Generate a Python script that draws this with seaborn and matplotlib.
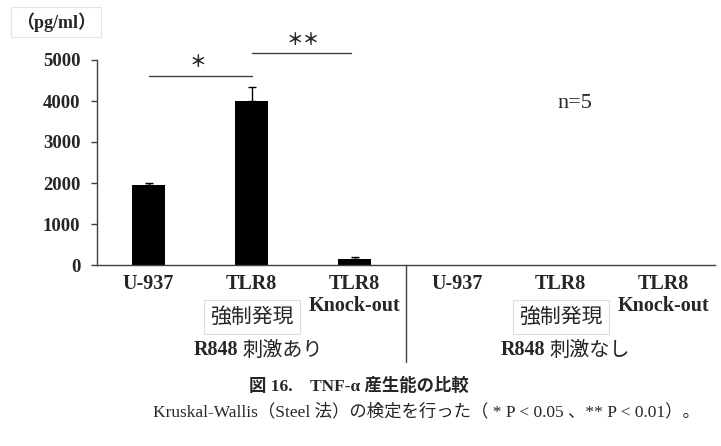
import matplotlib
matplotlib.use('Agg')
import matplotlib.pyplot as plt
import matplotlib.transforms as mtransforms
import seaborn as sns
import pandas as pd

# data
groups = ['U-937 +', 'TLR8 +', 'TLR8 KO +', 'U-937 -', 'TLR8 -', 'TLR8 KO -']
tnf = [1950, 4000, 150, 0, 0, 0]
sd = [60, 340, 50, 0, 0, 0]
top_labels = ['U-937', 'TLR8', 'TLR8', 'U-937', 'TLR8', 'TLR8']
sub_labels = ['', '強制発現', 'Knock-out', '', '強制発現', 'Knock-out']
stim_labels = [('R848', '刺激あり'), ('R848', '刺激なし')]
yticks = [0, 1000, 2000, 3000, 4000, 5000]

df = pd.DataFrame({'group': groups, 'tnf': tnf})

sns.set_style('white')
plt.rcParams['font.family'] = ['Liberation Serif', 'Noto Sans CJK JP']

W, H = 721, 446
fig = plt.figure(figsize=(W / 100, H / 100), dpi=100)
ax = fig.add_axes([97 / W, 1 - 265 / H, (715 - 97) / W, (265 - 60) / H])

sns.barplot(data=df, x='group', y='tnf', order=groups, color='black',
            width=0.32, errorbar=None, linewidth=0, saturation=1, ax=ax)
xs = range(len(groups))
ax.errorbar(xs[:3], tnf[:3], yerr=[[0] * 3, sd[:3]], fmt='none',
            ecolor='black', elinewidth=1, capsize=3, capthick=1)

ax.set_xlim(-0.5, 5.5)
ax.set_ylim(0, 5000)
ax.set_yticks(yticks)
ax.set_yticklabels([str(v) for v in yticks], fontsize=13.5, fontweight='bold')
ax.set_xticks([])
ax.set_xlabel('')
ax.set_ylabel('')
ax.tick_params(axis='y', direction='out', length=4, width=1, color='#404040', pad=8, left=True)
sns.despine(ax=ax)
for s in ['left', 'bottom']:
    ax.spines[s].set_color('#404040')
    ax.spines[s].set_linewidth(1)

# category labels below axis
tr = mtransforms.blended_transform_factory(ax.transData, fig.transFigure)
def fy(py):
    return 1 - py / H

for i, (t, s) in enumerate(zip(top_labels, sub_labels)):
    ax.text(i, fy(284), t, transform=tr, ha='center', va='center',
            fontsize=14.5, fontweight='bold')
    if s == 'Knock-out':
        ax.text(i, fy(306), s, transform=tr, ha='center', va='center',
                fontsize=14.5, fontweight='bold')
    elif s:
        ax.text(i, fy(317), s, transform=tr, ha='center', va='center',
                fontsize=15, family=['Noto Sans CJK JP'],
                bbox=dict(boxstyle='square,pad=0.3', fc='white', ec='#dddddd', lw=0.8))

# R848 group labels: bold latin part + regular japanese part
for (a, b), px in zip(stim_labels, [238, 545]):
    fig.text(px / W, fy(350), a, ha='right', va='center', fontsize=14.5,
             fontweight='bold')
    fig.text((px + 4) / W, fy(350), b, ha='left', va='center', fontsize=14.5,
             family=['Noto Sans CJK JP'])

# divider between the two stimulus groups
ax.plot([2.5, 2.5], [fy(265), fy(362)], transform=tr, color='#404040',
        lw=1, clip_on=False)

# significance
ax.plot([0, 1], [4610, 4610], color='#404040', lw=1, clip_on=False)
ax.text(0.48, 4950, '＊', ha='center', va='center', fontsize=12,
        family=['Noto Sans CJK JP'], fontweight='bold')
ax.plot([1, 1.97], [5170, 5170], color='#404040', lw=1, clip_on=False)
ax.text(1.5, 5490, '＊＊', ha='center', va='center', fontsize=12,
        family=['Noto Sans CJK JP'], fontweight='bold')

ax.text(575 / W, fy(103), 'n=5', transform=fig.transFigure, ha='center',
        va='center', fontsize=16)

fig.text(56 / W, fy(22), '（pg/ml）', ha='center', va='center', fontsize=13,
         fontweight='bold',
         bbox=dict(boxstyle='square,pad=0.3', fc='white', ec='#e4e4e4', lw=0.8))

fig.text(359 / W, fy(386), '図 16.　TNF-α 産生能の比較', ha='center', va='center',
         fontsize=12.5, fontweight='bold')
fig.text(153 / W, fy(412), 'Kruskal-Wallis（Steel 法）の検定を行った（ * P < 0.05 、** P < 0.01）。',
         ha='left', va='center', fontsize=12.5)

fig.savefig('out.png', dpi=100)
